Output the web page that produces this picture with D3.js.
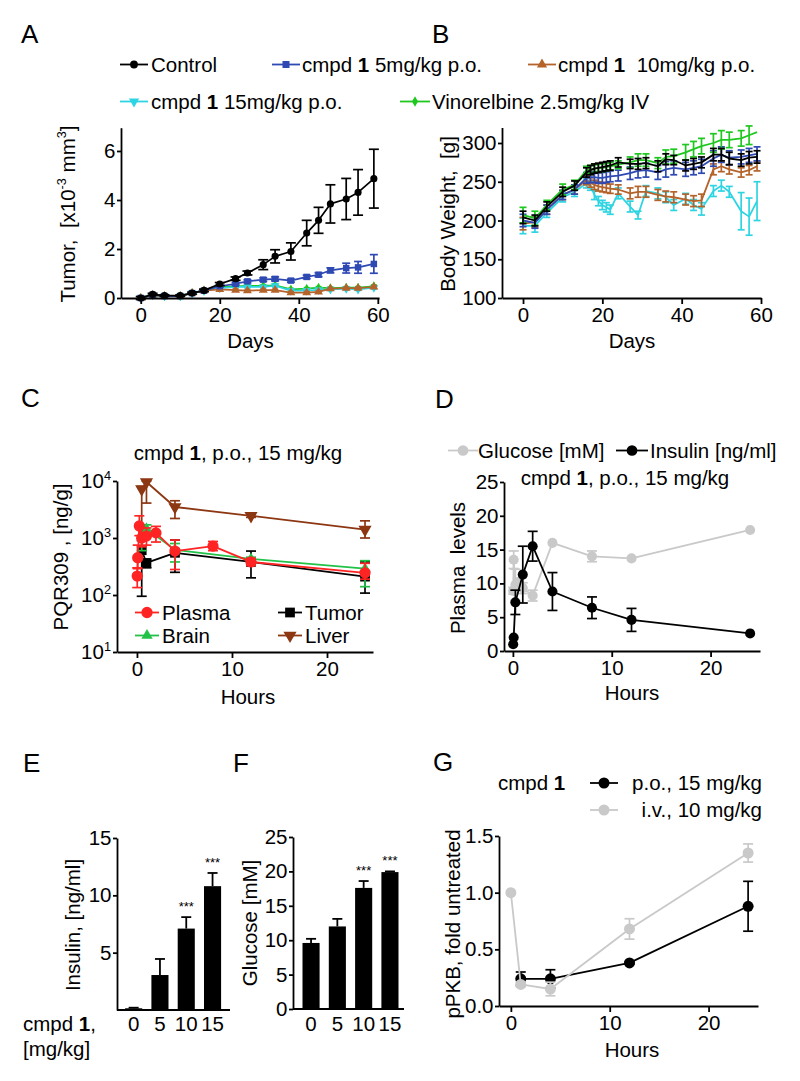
<!DOCTYPE html>
<html><head><meta charset="utf-8">
<script src="https://cdn.jsdelivr.net/npm/d3@7"></script>
<style>
body{margin:0;background:#fff;}
svg text{white-space:pre;}
</style></head><body>
<svg id="fig" width="800" height="1081"></svg>
<script>
// ---------------- Panel A: tumor volume ----------------
const aDays = [0,3,6,10,13,16,20,24,27,31,34,38,42,45,48,52,55,59];
const aControl = [0,0.15,0.1,0.1,0.2,0.31,0.57,0.79,1.02,1.36,1.7,1.9,2.65,3.17,3.84,4.04,4.31,4.87];
const aControlErr = [0.06,0.04,0.03,0.03,0.04,0.05,0.06,0.07,0.08,0.2,0.27,0.35,0.52,0.53,0.78,0.84,0.93,1.2];
const aCmpd5 = [0,0.13,0.08,0.08,0.2,0.3,0.48,0.58,0.68,0.75,0.78,0.71,0.86,0.95,1.13,1.22,1.25,1.39];
const aCmpd5Err = [0.02,0.02,0.02,0.02,0.03,0.03,0.04,0.05,0.06,0.07,0.08,0.06,0.07,0.08,0.1,0.2,0.24,0.38];
const aCmpd10 = [0,0.12,0.08,0.08,0.2,0.3,0.35,0.32,0.3,0.32,0.32,0.22,0.22,0.25,0.38,0.4,0.4,0.45];
const aCmpd10Err = [0.02,0.02,0.02,0.02,0.03,0.03,0.04,0.04,0.04,0.04,0.04,0.04,0.04,0.04,0.04,0.04,0.04,0.05];
const aCmpd15 = [0,0.12,0.08,0.08,0.2,0.3,0.4,0.45,0.45,0.45,0.5,0.3,0.3,0.33,0.35,0.38,0.35,0.42];
const aCmpd15Err = [0.02,0.02,0.02,0.02,0.03,0.03,0.04,0.04,0.04,0.04,0.05,0.04,0.04,0.04,0.04,0.04,0.04,0.05];
const aVino = [0,0.12,0.08,0.08,0.2,0.3,0.45,0.48,0.5,0.5,0.52,0.35,0.38,0.42,0.4,0.42,0.42,0.48];
const aVinoErr = [0.02,0.02,0.02,0.02,0.03,0.03,0.04,0.04,0.04,0.04,0.05,0.04,0.04,0.04,0.04,0.04,0.04,0.05];
const aXTicks = [0,20,40,60];
const aYTicks = [0,2,4,6];

// ---------------- Panel B: body weight ----------------
const bDays = [0,3,6,10,13,16,17,18,19,20,21,22,24,27,29,31,34,36,38,41,43,45,48,50,52,55,57,59];
const bControl = [204,200,218,237,245,262,265,267,268,269,270,271,275,273,273,274,270,279,278,271,273,275,285,285,280,278,281,282];
const bControlErr = [8,7,6,6,6,6,6,6,6,6,6,6,6,6,7,7,7,7,6,7,7,7,8,8,8,8,8,8];
const bVino = [207,203,220,240,246,265,266,267,268,268,269,270,272,275,278,278,274,282,283,288,292,296,300,304,304,306,310,314];
const bVinoErr = [10,9,6,7,6,5,5,5,5,5,5,5,5,7,8,8,7,9,9,10,10,10,12,12,10,10,12,0];
const bCmpd5 = [200,197,214,233,240,255,256,256,255,255,256,257,258,261,264,265,262,266,268,266,268,270,280,285,281,282,284,286];
const bCmpd5Err = [8,7,6,6,6,7,7,7,7,7,7,7,7,8,9,9,9,10,9,9,9,9,10,10,9,9,9,9];
const bCmpd10 = [196,198,214,233,240,252,249,246,244,243,242,241,240,235,237,237,233,231,230,227,225,226,266,270,266,262,265,270];
const bCmpd10Err = [8,7,6,6,6,6,6,6,6,6,6,6,6,7,7,7,7,7,7,7,7,8,7,7,6,6,6,6];
const bCmpd15 = [193,193,210,230,237,248,245,233,225,220,217,214,235,218,207,238,235,230,220,228,220,215,238,245,237,212,205,225];
const bCmpd15Err = [10,8,6,6,6,6,6,6,6,6,6,6,7,7,5,7,7,7,7,7,7,8,7,7,7,24,24,25];
const bXTicks = [0,20,40,60];
const bYTicks = [100,150,200,250,300];

// ---------------- Panel C: PK (log scale) ----------------
const cPlasmaT = [0.03,0.08,0.25,0.5,1,2,4,8,12,24];
const cPlasma = [215,450,1630,1000,1080,1230,590,720,380,245];
const cPlasmaLo = [135,290,1100,700,750,850,280,600,330,190];
const cPlasmaHi = [300,750,2450,1500,1500,1600,920,870,440,360];
const cTumorT = [0.5,1,4,12,24];
const cTumor = [610,365,550,380,210];
const cTumorLo = [95,300,250,200,108];
const cTumorHi = [900,420,920,590,380];
const cBrainT = [0.5,1,4,12,24];
const cBrain = [1100,1450,620,430,290];
const cBrainLo = [600,1200,380,400,140];
const cBrainHi = [1500,1700,800,460,400];
const cLiverT = [0.5,1,4,12,24];
const cLiver = [7200,9600,3500,2450,1400];
const cLiverLo = [1500,4100,2200,2300,1000];
const cLiverHi = [8000,10000,4500,2600,2000];
const cXTicks = [0,10,20];
const cYTicks = [10,100,1000,10000];
const cYExp = ["1","2","3","4"];

// ---------------- Panel D: glucose / insulin ----------------
const dInsT = [0.03,0.08,0.25,1,2,4,8,12,24];
const dInsulin = [1.0,2.0,7.2,11.3,15.5,8.8,6.4,4.6,2.6];
const dInsulinErr = [0,0,1.8,4.2,2.2,2.8,1.6,1.7,0];
const dGluT = [0.03,0.08,0.25,0.5,1,2,4,8,12,24];
const dGlucose = [8.9,13.5,9.8,10.2,9.3,8.2,16.0,14.0,13.7,17.9];
const dGlucoseErr = [0.5,1.3,2.3,0.5,0.8,0.8,0,0.8,0,0];
const dXTicks = [0,10,20];
const dYTicks = [0,5,10,15,20,25];

// ---------------- Panel E: insulin bars ----------------
const eDoses = ["0","5","10","15"];
const eInsulin = [0.15,3.05,7.1,10.8];
const eInsulinErr = [0.05,1.4,1.0,1.15];
const eSig = ["","","***","***"];
const eYTicks = [5,10,15];

// ---------------- Panel F: glucose bars ----------------
const fDoses = ["0","5","10","15"];
const fGlucose = [9.6,12.0,17.6,19.9];
const fGlucoseErr = [0.6,1.1,1.0,0.1];
const fSig = ["","","***","***"];
const fYTicks = [0,5,10,15,20,25];

// ---------------- Panel G: pPKB ----------------
const gPOT = [1,4,12,24];
const gPO = [0.24,0.24,0.38,0.88];
const gPOErr = [0.06,0.08,0.01,0.22];
const gIVT = [0,1,4,12,24];
const gIV = [1.0,0.19,0.15,0.68,1.35];
const gIVErr = [0,0.02,0.06,0.09,0.08];
const gXTicks = [0,10,20];
const gYTicks = [0,0.5,1.0,1.5];

// ---------------- styling ----------------
const FONT = '"Liberation Sans", Arial, Helvetica, sans-serif';
const FS = 20.5;
const C_BLACK = '#000000', C_BLUE = '#2f49b3', C_BROWN = '#b4632b', C_CYAN = '#2fd4e2', C_GREEN = '#1fc81f';
const C_RED = '#ff2424', C_BGREEN = '#22c248', C_LIVER = '#8c3612', C_GRAY = '#c9c9c9';

const svg = d3.select('#fig');
svg.append('rect').attr('width', 800).attr('height', 1081).attr('fill', '#fff');
const root = svg.append('g').attr('font-family', FONT);

function rich(g, x, y, parts, o = {}) {
  const fs = o.fs || FS;
  const t = g.append('text').attr('x', x).attr('y', y).attr('font-size', fs)
    .attr('font-family', FONT).attr('fill', o.fill || '#000')
    .attr('text-anchor', o.anchor || 'start');
  if (o.transform) t.attr('transform', o.transform);
  let raised = false;
  (typeof parts === 'string' ? [parts] : parts).forEach(p => {
    const item = typeof p === 'string' ? { t: p } : p;
    const s = t.append('tspan').text(item.t);
    if (item.b) s.attr('font-weight', 'bold');
    if (item.sup && !raised) { s.attr('dy', -fs * 0.42); raised = true; }
    else if (!item.sup && raised) { s.attr('dy', fs * 0.42); raised = false; }
    if (item.sup) s.attr('font-size', fs * 0.62);
  });
  return t;
}
function vlabel(g, bx, cy, parts) {
  return rich(g, 0, 0, parts, { anchor: 'middle', transform: `translate(${bx},${cy}) rotate(-90)` });
}
function styleAx(ax) {
  ax.attr('font-size', FS).attr('font-family', FONT);
  ax.select('.domain').attr('stroke', '#000').attr('stroke-width', 1.8);
  ax.selectAll('.tick line').attr('stroke', '#000').attr('stroke-width', 1.8);
  ax.selectAll('.tick text').attr('fill', '#000');
}
function bottomAxis(g, x, y0, vals, fmt) {
  const ax = g.append('g').attr('transform', `translate(0,${y0})`)
    .call(d3.axisBottom(x).tickValues(vals).tickSize(6).tickSizeOuter(0).tickPadding(3.5).tickFormat(fmt || d3.format('d')));
  styleAx(ax); return ax;
}
function leftAxis(g, y, x0, vals, fmt) {
  const ax = g.append('g').attr('transform', `translate(${x0},0)`)
    .call(d3.axisLeft(y).tickValues(vals).tickSize(4).tickSizeOuter(0).tickPadding(1.5).tickFormat(fmt || d3.format('d')));
  styleAx(ax); return ax;
}
function drawSeries(g, x, y, ts, vs, o) {
  const data = ts.map((t, i) => ({
    t, v: vs[i],
    lo: o.lo ? o.lo[i] : (o.err ? vs[i] - o.err[i] : null),
    hi: o.hi ? o.hi[i] : (o.err ? vs[i] + o.err[i] : null)
  }));
  g.append('path').datum(data)
    .attr('d', d3.line().x(d => x(d.t)).y(d => y(d.v)))
    .attr('fill', 'none').attr('stroke', o.color).attr('stroke-width', o.lw || 1.7)
    .attr('stroke-linejoin', 'round');
  const cw = o.cap || 4;
  const eg = g.append('g').attr('stroke', o.color).attr('stroke-width', o.elw || 1.7);
  data.forEach(d => {
    if (d.lo == null || d.hi == null || d.hi - d.lo <= 0) return;
    const xx = x(d.t), y1 = y(d.lo), y2 = y(d.hi);
    eg.append('line').attr('x1', xx).attr('x2', xx).attr('y1', y1).attr('y2', y2);
    eg.append('line').attr('x1', xx - cw).attr('x2', xx + cw).attr('y1', y1).attr('y2', y1);
    eg.append('line').attr('x1', xx - cw).attr('x2', xx + cw).attr('y1', y2).attr('y2', y2);
  });
  if (o.symbol) {
    const sym = d3.symbol().type(o.symbol).size(o.size || 40)();
    g.append('g').selectAll('path').data(data).join('path')
      .attr('d', sym).attr('fill', o.color)
      .attr('transform', d => `translate(${x(d.t)},${y(d.v)}) rotate(${o.rot || 0})`);
  }
}
function legendItem(g, x1, x2, y, color, sym, size, rot) {
  g.append('line').attr('x1', x1).attr('x2', x2).attr('y1', y).attr('y2', y)
    .attr('stroke', color).attr('stroke-width', 1.8);
  if (sym) g.append('path').attr('d', d3.symbol().type(sym).size(size)())
    .attr('transform', `translate(${(x1 + x2) / 2},${y}) rotate(${rot || 0})`).attr('fill', color);
}
function panelLetter(x, y, s) { rich(root, x, y, s, { fs: 26 }); }

// ================= Panel letters =================
panelLetter(21, 43, 'A'); panelLetter(432, 43, 'B');
panelLetter(21, 407, 'C'); panelLetter(435, 408, 'D');
panelLetter(23, 772, 'E'); panelLetter(233, 772, 'F'); panelLetter(433, 771, 'G');

// ================= Legend A/B =================
const lg = root.append('g');
legendItem(lg, 120, 148, 64.5, C_BLACK, d3.symbolCircle, 48);
rich(lg, 151, 72, 'Control');
legendItem(lg, 272, 300, 64.5, C_BLUE, d3.symbolSquare, 49);
rich(lg, 302, 72, ['cmpd ', { t: '1', b: true }, ' 5mg/kg p.o.']);
legendItem(lg, 528, 556, 64.5, C_BROWN, d3.symbolTriangle, 45);
rich(lg, 558, 72, ['cmpd ', { t: '1', b: true }, '  10mg/kg p.o.']);
legendItem(lg, 120, 148, 101.5, C_CYAN, d3.symbolTriangle, 45, 180);
rich(lg, 151, 109, ['cmpd ', { t: '1', b: true }, ' 15mg/kg p.o.']);
legendItem(lg, 400, 430, 101.5, C_GREEN, d3.symbolDiamond, 32);
rich(lg, 432, 109, 'Vinorelbine 2.5mg/kg IV');

// ================= Panel A =================
{
  const g = root.append('g');
  const x = d3.scaleLinear().domain([-5, 60.3]).range([121, 379]);
  const y = d3.scaleLinear().domain([0, 6.95]).range([298, 127.7]);
  drawSeries(g, x, y, aDays, aVino, { color: C_GREEN, err: aVinoErr, symbol: d3.symbolDiamond, size: 28, cap: 3 });
  drawSeries(g, x, y, aDays, aCmpd15, { color: C_CYAN, err: aCmpd15Err, symbol: d3.symbolTriangle, size: 34, rot: 180, cap: 3 });
  drawSeries(g, x, y, aDays, aCmpd10, { color: C_BROWN, err: aCmpd10Err, symbol: d3.symbolTriangle, size: 34, cap: 3 });
  drawSeries(g, x, y, aDays, aCmpd5, { color: C_BLUE, err: aCmpd5Err, symbol: d3.symbolSquare, size: 42, cap: 4 });
  drawSeries(g, x, y, aDays, aControl, { color: C_BLACK, err: aControlErr, symbol: d3.symbolCircle, size: 40, cap: 5 });
  bottomAxis(g, x, 298, aXTicks);
  leftAxis(g, y, 121, aYTicks);
  vlabel(g, 75, 214, ['Tumor,  [x10', { t: '-3', sup: true }, ' mm', { t: '3', sup: true }, ']']);
  rich(g, 250.5, 348, 'Days', { anchor: 'middle' });
}

// ================= Panel B =================
{
  const g = root.append('g');
  const x = d3.scaleLinear().domain([-5.3, 60]).range([502, 761]);
  const y = d3.scaleLinear().domain([100, 320]).range([298, 127.5]);
  drawSeries(g, x, y, bDays, bCmpd15, { color: C_CYAN, err: bCmpd15Err, cap: 3.5, lw: 1.8 });
  drawSeries(g, x, y, bDays, bCmpd10, { color: C_BROWN, err: bCmpd10Err, cap: 3.5, lw: 1.8 });
  drawSeries(g, x, y, bDays, bCmpd5, { color: C_BLUE, err: bCmpd5Err, cap: 3.5, lw: 1.8 });
  drawSeries(g, x, y, bDays, bVino, { color: C_GREEN, err: bVinoErr, cap: 3.5, lw: 1.8 });
  drawSeries(g, x, y, bDays, bControl, { color: C_BLACK, err: bControlErr, cap: 3.5, lw: 1.8 });
  bottomAxis(g, x, 298, bXTicks);
  leftAxis(g, y, 502, bYTicks);
  vlabel(g, 455, 214, 'Body Weight,  [g]');
  rich(g, 632, 348, 'Days', { anchor: 'middle' });
}

// ================= Panel C =================
{
  const g = root.append('g');
  const x = d3.scaleLinear().domain([-2.1, 24.84]).range([117, 373]);
  const y = d3.scaleLog().domain([10, 10000]).range([652, 481]);
  drawSeries(g, x, y, cTumorT, cTumor, { color: C_BLACK, lo: cTumorLo, hi: cTumorHi, symbol: d3.symbolSquare, size: 95, cap: 5, lw: 1.8 });
  drawSeries(g, x, y, cBrainT, cBrain, { color: C_BGREEN, lo: cBrainLo, hi: cBrainHi, symbol: d3.symbolTriangle, size: 55, cap: 5, lw: 1.8 });
  drawSeries(g, x, y, cLiverT, cLiver, { color: C_LIVER, lo: cLiverLo, hi: cLiverHi, symbol: d3.symbolTriangle, size: 75, rot: 180, cap: 5, lw: 1.8 });
  drawSeries(g, x, y, cPlasmaT, cPlasma, { color: C_RED, lo: cPlasmaLo, hi: cPlasmaHi, symbol: d3.symbolCircle, size: 100, cap: 5, lw: 1.8 });
  bottomAxis(g, x, 652, cXTicks);
  const ax = leftAxis(g, y, 117, cYTicks, () => '');
  cYTicks.forEach((v, i) => rich(g, 111, y(v) + 7.4, ['10', { t: cYExp[i], sup: true }], { anchor: 'end' }));
  vlabel(g, 68, 557, 'PQR309 , [ng/g]');
  rich(g, 248, 704, 'Hours', { anchor: 'middle' });
  rich(g, 238, 460, ['cmpd ', { t: '1', b: true }, ', p.o., 15 mg/kg'], { anchor: 'middle' });
  legendItem(g, 135, 159, 612.5, C_RED, d3.symbolCircle, 100);
  rich(g, 162, 620, 'Plasma');
  legendItem(g, 135, 159, 635.5, C_BGREEN, d3.symbolTriangle, 55);
  rich(g, 162, 643, 'Brain');
  legendItem(g, 278, 302, 612.5, C_BLACK, d3.symbolSquare, 95);
  rich(g, 305, 620, 'Tumor');
  legendItem(g, 278, 302, 635.5, C_LIVER, d3.symbolTriangle, 75, 180);
  rich(g, 305, 643, 'Liver');
}

// ================= Panel D =================
{
  const g = root.append('g');
  const x = d3.scaleLinear().domain([-0.9, 25]).range([504, 760]);
  const y = d3.scaleLinear().domain([0, 25]).range([651, 482]);
  drawSeries(g, x, y, dGluT, dGlucose, { color: C_GRAY, err: dGlucoseErr, symbol: d3.symbolCircle, size: 80, cap: 5, lw: 1.8 });
  drawSeries(g, x, y, dInsT, dInsulin, { color: C_BLACK, err: dInsulinErr, symbol: d3.symbolCircle, size: 80, cap: 5, lw: 1.8 });
  bottomAxis(g, x, 651, dXTicks);
  leftAxis(g, y, 504, dYTicks);
  vlabel(g, 465, 568, 'Plasma  levels');
  rich(g, 632, 700, 'Hours', { anchor: 'middle' });
  rich(g, 625, 485, ['cmpd ', { t: '1', b: true }, ', p.o., 15 mg/kg'], { anchor: 'middle' });
  legendItem(g, 448, 478, 450.5, C_GRAY, d3.symbolCircle, 90);
  rich(g, 478, 458, 'Glucose [mM]');
  legendItem(g, 616, 648, 450.5, C_BLACK, d3.symbolCircle, 90);
  rich(g, 650, 458, 'Insulin [ng/ml]');
}

// ================= Bar helper =================
function barPanel(g, cats, vals, errs, sig, x, y) {
  g.selectAll('rect.bar').data(cats).join('rect').attr('class', 'bar')
    .attr('x', d => x(d)).attr('width', x.bandwidth())
    .attr('y', (d, i) => y(vals[i])).attr('height', (d, i) => y(0) - y(vals[i]))
    .attr('fill', '#000');
  const eg = g.append('g').attr('stroke', '#000').attr('stroke-width', 1.8);
  cats.forEach((c, i) => {
    const cx = x(c) + x.bandwidth() / 2, y1 = y(vals[i]), y2 = y(vals[i] + errs[i]);
    eg.append('line').attr('x1', cx).attr('x2', cx).attr('y1', y1).attr('y2', y2);
    eg.append('line').attr('x1', cx - 5).attr('x2', cx + 5).attr('y1', y2).attr('y2', y2);
    if (sig[i]) rich(g, cx, y2 - 6, sig[i], { anchor: 'middle', fs: 13 });
    rich(g, cx, 1031, c, { anchor: 'middle' });
  });
}

// ================= Panel E =================
{
  const g = root.append('g');
  const x = d3.scaleBand().domain(eDoses).range([120.5, 225.7]).paddingInner(0.35).paddingOuter(0.175);
  const y = d3.scaleLinear().domain([0, 15]).range([1010, 838]);
  barPanel(g, eDoses, eInsulin, eInsulinErr, eSig, x, y);
  g.append('line').attr('x1', 117).attr('x2', 230).attr('y1', 1010).attr('y2', 1010).attr('stroke', '#000').attr('stroke-width', 1.8);
  leftAxis(g, y, 117, eYTicks);
  vlabel(g, 80, 925, 'Insulin, [ng/ml]');
  rich(g, 23, 1031, ['cmpd ', { t: '1', b: true }, ',']);
  rich(g, 23, 1056, '[mg/kg]');
}

// ================= Panel F =================
{
  const g = root.append('g');
  const x = d3.scaleBand().domain(fDoses).range([297.9, 403.1]).paddingInner(0.35).paddingOuter(0.175);
  const y = d3.scaleLinear().domain([0, 25]).range([1009, 837]);
  barPanel(g, fDoses, fGlucose, fGlucoseErr, fSig, x, y);
  g.append('line').attr('x1', 293).attr('x2', 404).attr('y1', 1009).attr('y2', 1009).attr('stroke', '#000').attr('stroke-width', 1.8);
  leftAxis(g, y, 293, fYTicks);
  vlabel(g, 257, 923, 'Glucose [mM]');
}

// ================= Panel G =================
{
  const g = root.append('g');
  const x = d3.scaleLinear().domain([-1.2, 25]).range([499, 758]);
  const y = d3.scaleLinear().domain([0, 1.5]).range([1006, 836]);
  drawSeries(g, x, y, gPOT, gPO, { color: C_BLACK, err: gPOErr, symbol: d3.symbolCircle, size: 95, cap: 5, lw: 1.8 });
  drawSeries(g, x, y, gIVT, gIV, { color: C_GRAY, err: gIVErr, symbol: d3.symbolCircle, size: 95, cap: 5, lw: 1.8 });
  bottomAxis(g, x, 1006, gXTicks);
  leftAxis(g, y, 499, gYTicks, d3.format('.1f'));
  vlabel(g, 460, 924, 'pPKB, fold untreated');
  rich(g, 632, 1057, 'Hours', { anchor: 'middle' });
  rich(g, 498, 790, ['cmpd ', { t: '1', b: true }]);
  legendItem(g, 590, 618, 783, C_BLACK, d3.symbolCircle, 95);
  rich(g, 762, 790, 'p.o., 15 mg/kg', { anchor: 'end' });
  legendItem(g, 590, 618, 810, C_GRAY, d3.symbolCircle, 95);
  rich(g, 762, 817, 'i.v., 10 mg/kg', { anchor: 'end' });
}
</script>
</body></html>
